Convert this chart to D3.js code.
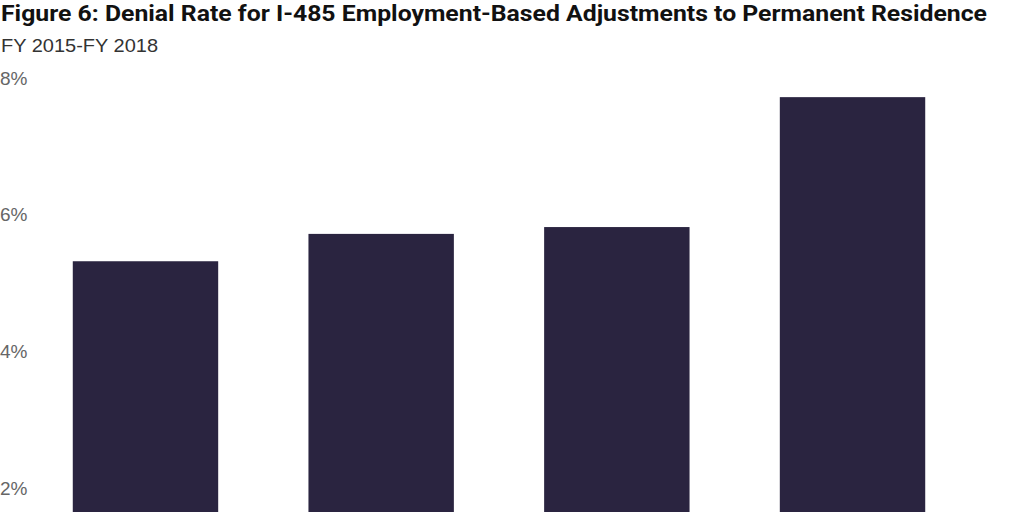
<!DOCTYPE html>
<html>
<head>
<meta charset="utf-8">
<script src="https://cdn.jsdelivr.net/npm/d3@7"></script>
<style>
  body { margin: 0; background: #fff; }
  svg { display: block; }
</style>
</head>
<body>
<svg id="svg" width="1024" height="512"></svg>
<script>
// values (percent)
let years = ['FY 2015', 'FY 2016', 'FY 2017', 'FY 2018'];
let denialRates = [5.32, 5.72, 5.82, 7.72];
let yTicks = [2, 4, 6, 8];

let svg = d3.select('#svg');

svg.append('text')
  .attr('x', 1)
  .attr('y', 21)
  .attr('font-family', 'Roboto, sans-serif')
  .attr('font-weight', 'bold')
  .attr('font-size', 22)
  .attr('textLength', 986)
  .attr('lengthAdjust', 'spacingAndGlyphs')
  .attr('fill', '#111')
  .text('Figure 6: Denial Rate for I-485 Employment-Based Adjustments to Permanent Residence');

svg.append('text')
  .attr('x', 1)
  .attr('y', 52)
  .attr('font-family', '"Liberation Sans", Arial, sans-serif')
  .attr('font-size', 19)
  .attr('textLength', 157)
  .attr('lengthAdjust', 'spacingAndGlyphs')
  .attr('fill', '#333')
  .text('FY 2015-FY 2018');

// chart is cropped at the bottom: zero sits below the window
let yScale = d3.scaleLinear()
  .domain([0, 8])
  .range([625, 78]);

let xScale = d3.scaleBand()
  .domain(years)
  .range([28, 970])
  .paddingInner(0.383)
  .paddingOuter(0.19);

let yAxis = d3.axisLeft(yScale)
  .tickValues(yTicks)
  .tickSize(0)
  .tickFormat(d => d + '%');

let gYAxis = svg.append('g')
  .attr('class', 'y-axis')
  .call(yAxis);

gYAxis.select('.domain').remove();
gYAxis.selectAll('text')
  .attr('x', 0)
  .attr('text-anchor', 'start')
  .attr('font-family', '"Liberation Sans", Arial, sans-serif')
  .attr('font-size', 19)
  .attr('fill', '#666');

svg.append('g')
  .attr('class', 'bars')
  .selectAll('rect')
  .data(denialRates)
  .enter()
  .append('rect')
  .attr('x', (d, i) => xScale(years[i]))
  .attr('width', xScale.bandwidth())
  .attr('y', d => yScale(d))
  .attr('height', d => yScale(0) - yScale(d))
  .attr('fill', '#2a2440');
</script>
</body>
</html>
